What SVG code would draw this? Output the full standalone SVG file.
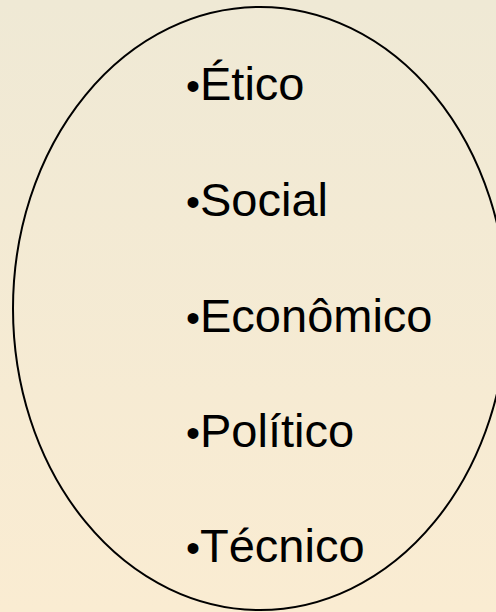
<svg xmlns="http://www.w3.org/2000/svg" width="496" height="612" viewBox="0 0 496 612">
  <defs>
    <linearGradient id="bg" x1="0" y1="0" x2="0" y2="1">
      <stop offset="0" stop-color="#EFE9D5"/>
      <stop offset="1" stop-color="#FAECD2"/>
    </linearGradient>
    <style>
      .lbl { font-family: "Liberation Sans", Arial, sans-serif; font-size: 47px; fill: #000; }
      .blt { font-size: 40px; }
      .oval { fill: none; stroke: #000; stroke-width: 2; }
    </style>
  </defs>
  <rect x="0" y="0" width="496" height="612" fill="url(#bg)"/>
  <g id="ellipse">
    <ellipse class="oval" cx="260" cy="308.5" rx="247" ry="301.5"/>
  </g>
  <g id="etico"><text class="lbl" x="186" y="100"><tspan class="blt">•</tspan><tspan x="200">Ético</tspan></text></g>
  <g id="social"><text class="lbl" x="186" y="216"><tspan class="blt">•</tspan><tspan x="200">Social</tspan></text></g>
  <g id="economico"><text class="lbl" x="186" y="332"><tspan class="blt">•</tspan><tspan x="200">Econômico</tspan></text></g>
  <g id="politico"><text class="lbl" x="186" y="447"><tspan class="blt">•</tspan><tspan x="200">Político</tspan></text></g>
  <g id="tecnico"><text class="lbl" x="186" y="562"><tspan class="blt">•</tspan><tspan x="200">Técnico</tspan></text></g>
  <g id="connectors"></g>
</svg>
